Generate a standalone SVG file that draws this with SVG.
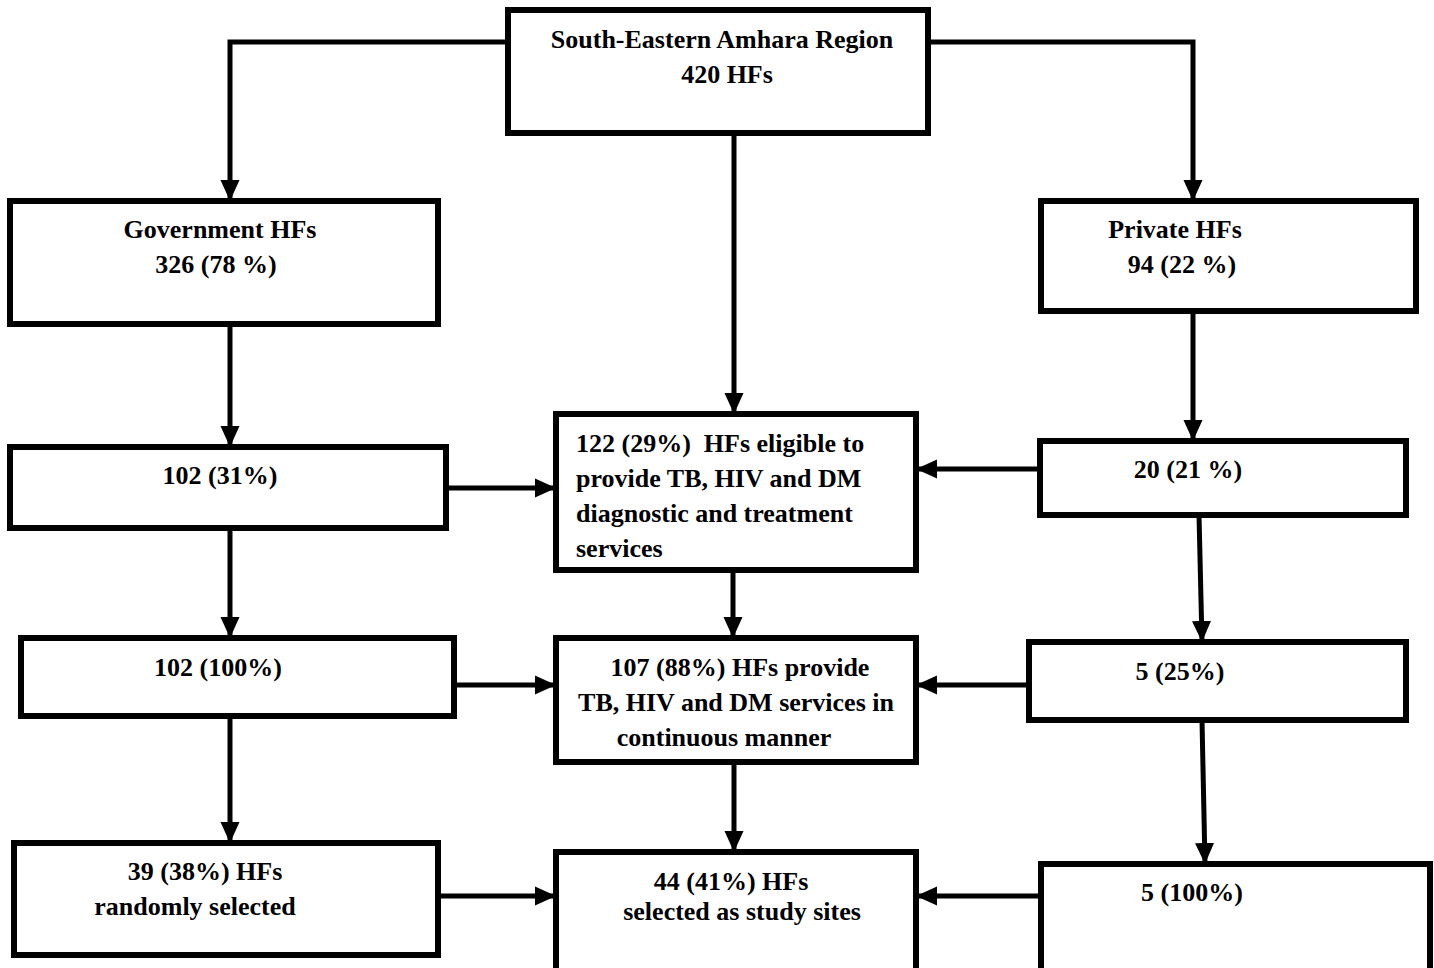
<svg xmlns="http://www.w3.org/2000/svg" width="1434" height="968" viewBox="0 0 1434 968">
<style>
.box{fill:#fff;stroke:#000;stroke-width:6}
.t{font-family:"Liberation Serif","Times New Roman",serif;font-weight:bold;font-size:26px;fill:#000}
.c{text-anchor:middle}
.ln{fill:none;stroke:#000;stroke-width:5;marker-end:url(#ah)}
</style>
<defs>
<marker id="ah" markerWidth="4.2" markerHeight="4" viewBox="0 0 21 19" refX="21" refY="9.5" orient="auto" markerUnits="strokeWidth">
<path d="M0,0 L21,9.5 L0,19 Z" fill="#000"/>
</marker>
</defs>
<rect width="1434" height="968" fill="#fff"/>
<g id="connectors">
<path class="ln" d="M508,42 H230 V201"/>
<path class="ln" d="M928,42 H1193 V201"/>
<path class="ln" d="M734,133 V414"/>
<path class="ln" d="M230,324 V447"/>
<path class="ln" d="M1193,311 V441"/>
<path class="ln" d="M446,488 H556"/>
<path class="ln" d="M1040,469 H916"/>
<path class="ln" d="M733,570 V638"/>
<path class="ln" d="M230,528 V638"/>
<path class="ln" d="M1199,515 L1202,642"/>
<path class="ln" d="M454,685 H556"/>
<path class="ln" d="M1029,685 H916"/>
<path class="ln" d="M230,716 V843"/>
<path class="ln" d="M734,762 V852"/>
<path class="ln" d="M1202,720 L1205,864"/>
<path class="ln" d="M438,896 H556"/>
<path class="ln" d="M1041,896 H916"/>
</g>
<g id="region">
<rect class="box" x="508" y="10" width="420" height="123"/>
<text class="t c" x="722" y="48">South-Eastern Amhara Region</text>
<text class="t c" x="727" y="83">420 HFs</text>
</g>
<g id="government">
<rect class="box" x="10" y="201" width="428" height="123"/>
<text class="t c" x="220" y="238">Government HFs</text>
<text class="t c" x="216" y="273">326 (78 %)</text>
</g>
<g id="private">
<rect class="box" x="1041" y="201" width="375" height="110"/>
<text class="t c" x="1175" y="238">Private HFs</text>
<text class="t c" x="1182" y="273">94 (22 %)</text>
</g>
<g id="gov102">
<rect class="box" x="10" y="447" width="436" height="81"/>
<text class="t c" x="220" y="484">102 (31%)</text>
</g>
<g id="eligible">
<rect class="box" x="556" y="414" width="360" height="156"/>
<text class="t" x="576" y="452" xml:space="preserve">122 (29%)  HFs eligible to</text>
<text class="t" x="576" y="487">provide TB, HIV and DM</text>
<text class="t" x="576" y="522">diagnostic and treatment</text>
<text class="t" x="576" y="557">services</text>
</g>
<g id="priv20">
<rect class="box" x="1040" y="441" width="366" height="74"/>
<text class="t c" x="1188" y="478">20 (21 %)</text>
</g>
<g id="gov102b">
<rect class="box" x="21" y="638" width="433" height="78"/>
<text class="t c" x="218" y="676">102 (100%)</text>
</g>
<g id="continuous">
<rect class="box" x="556" y="638" width="360" height="124"/>
<text class="t c" x="740" y="676">107 (88%) HFs provide</text>
<text class="t c" x="736" y="711">TB, HIV and DM services in</text>
<text class="t c" x="724" y="746">continuous manner</text>
</g>
<g id="priv5">
<rect class="box" x="1029" y="642" width="377" height="78"/>
<text class="t c" x="1180" y="680">5 (25%)</text>
</g>
<g id="gov39">
<rect class="box" x="14" y="843" width="424" height="112"/>
<text class="t c" x="205" y="880">39 (38%) HFs</text>
<text class="t c" x="195" y="915">randomly selected</text>
</g>
<g id="study">
<rect class="box" x="556" y="852" width="360" height="130"/>
<text class="t c" x="731" y="890">44 (41%) HFs</text>
<text class="t c" x="742" y="920">selected as study sites</text>
</g>
<g id="priv5b">
<rect class="box" x="1041" y="864" width="389" height="118"/>
<text class="t c" x="1192" y="901">5 (100%)</text>
</g>
</svg>
